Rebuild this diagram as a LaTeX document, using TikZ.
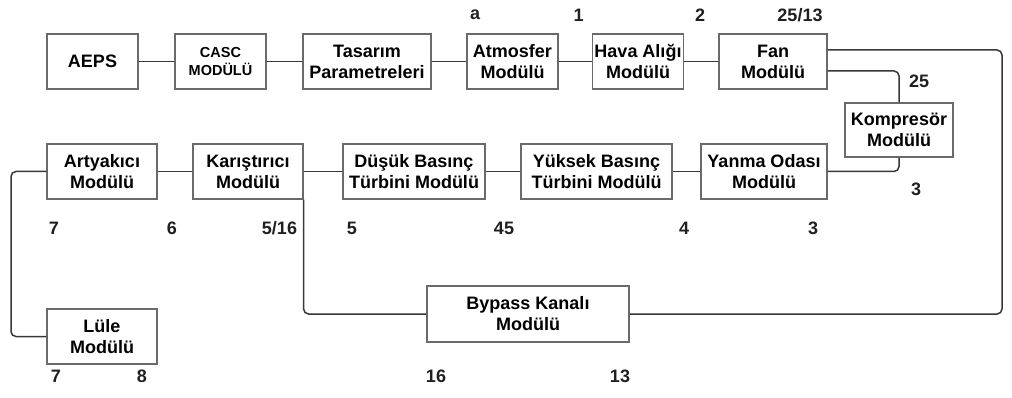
\documentclass[tikz,border=0pt]{standalone}
\usepackage{fontspec}
\setmainfont{Liberation Sans}
\usetikzlibrary{calc}
\definecolor{kutucizgi}{HTML}{6A6A6A}
\definecolor{baglanti}{HTML}{383838}
\begin{document}
\begin{tikzpicture}[x=1pt,y=-1pt,
	modul/.style={draw=kutucizgi,line width=1.2pt,fill=white,align=center,inner sep=2pt,minimum height=55pt,font=\fontsize{18}{21}\selectfont\bfseries},
	etiket/.style={inner sep=0pt,text=black!88,font=\fontsize{18}{21}\selectfont\bfseries},
	hat/.style={draw=baglanti,line width=1.5pt}]
				\useasboundingbox (0,0) rectangle (1012,398);
				\node[modul,minimum width=91pt] (aeps) at (92.5,61.5) {AEPS};
				\node[modul,minimum width=91pt,font=\fontsize{14.5}{18}\selectfont\bfseries] (casc) at (220.5,61.5) {CASC\\MODÜLÜ};
				\node[modul,minimum width=128pt] (tasarim) at (367,61.5) {Tasarım\\Parametreleri};
				\node[modul,minimum width=91pt] (atmosfer) at (512.5,61.5) {Atmosfer\\Modülü};
				\node[modul,minimum width=90pt] (hava) at (638,61.5) {Hava Alığı\\Modülü};
				\node[modul,minimum width=108pt] (fan) at (773,61.5) {Fan\\Modülü};
				\node[modul,minimum width=108pt,minimum height=54pt] (kompresor) at (899,130) {Kompresör\\Modülü};
				\node[modul,minimum width=126pt] (yanma) at (764,171.5) {Yanma Odası\\Modülü};
				\node[modul,minimum width=151pt] (yuksek) at (596.5,171.5) {Yüksek Basınç\\Türbini Modülü};
				\node[modul,minimum width=142pt] (dusuk) at (414,171.5) {Düşük Basınç\\Türbini Modülü};
				\node[modul,minimum width=110pt] (karistirici) at (248,171.5) {Karıştırıcı\\Modülü};
				\node[modul,minimum width=110pt] (artyakici) at (102,171.5) {Artyakıcı\\Modülü};
				\node[modul,minimum width=110pt] (lule) at (102,336.5) {Lüle\\Modülü};
				\node[modul,minimum width=202pt,minimum height=56pt] (bypass) at (528,314) {Bypass Kanalı\\Modülü};
				\coordinate (sagkose) at (1002,0);
				\coordinate (solkose) at (11,0);
				\draw[hat] (aeps) -- (casc);
				\draw[hat] (casc) -- (tasarim);
				\draw[hat] (tasarim) -- (atmosfer);
				\draw[hat] (atmosfer) -- (hava);
				\draw[hat] (hava) -- (fan);
				\draw[hat,rounded corners=5pt] ([yshift=11.5pt]fan.east) -| (sagkose |- bypass.east) -- (bypass.east);
				\draw[hat,rounded corners=5pt] ([yshift=-9.5pt]fan.east) -| (kompresor.north);
				\draw[hat,rounded corners=5pt] (kompresor.south) |- (yanma.east);
				\draw[hat] (yanma) -- (yuksek);
				\draw[hat] (yuksek) -- (dusuk);
				\draw[hat] (dusuk) -- (karistirici);
				\draw[hat] (karistirici) -- (artyakici);
				\draw[hat,rounded corners=5pt] (artyakici.west) -| (solkose |- lule.west) -- (lule.west);
				\draw[hat,rounded corners=5pt] (karistirici.south east) |- (bypass.west);
				\node[etiket] (ea) at (475,15) {a};
				\node[etiket] (e1) at (578.5,15) {1};
				\node[etiket] (e2) at (700,15) {2};
				\node[etiket] (e2513) at (800,15) {25/13};
				\node[etiket] (e25) at (919,81) {25};
				\node[etiket] (e3k) at (916,189) {3};
				\node[etiket] (e7a) at (54,228) {7};
				\node[etiket] (e6) at (172,228) {6};
				\node[etiket] (e516) at (279.5,228) {5/16};
				\node[etiket] (e5) at (352,228) {5};
				\node[etiket] (e45) at (504,228) {45};
				\node[etiket] (e4) at (684,228) {4};
				\node[etiket] (e3y) at (813,228) {3};
				\node[etiket] (e7l) at (56,376) {7};
				\node[etiket] (e8) at (142,376) {8};
				\node[etiket] (e16) at (436,376) {16};
				\node[etiket] (e13) at (620,376) {13};
			\end{tikzpicture}
\end{document}
